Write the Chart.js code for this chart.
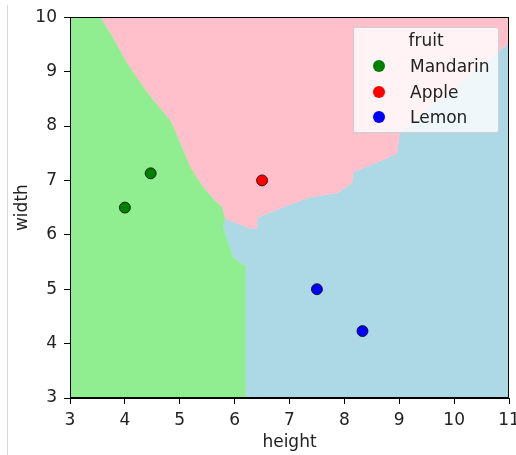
<!DOCTYPE html>
<html>
<head>
<meta charset="utf-8">
<script src="https://cdn.jsdelivr.net/npm/chart.js@4.4.1/dist/chart.umd.min.js"></script>
<style>
  body { margin: 0; background: #fff; }
  #wrap { position: relative; width: 516px; height: 455px; font-family: "DejaVu Sans", sans-serif; }
  #edge { position: absolute; left: 7px; top: 5px; width: 1px; height: 450px; background: #d8d8d8; }
  #legend {
    position: absolute; left: 353px; top: 27px; width: 144px; height: 104px;
    background: rgba(255,255,255,0.8); border: 1px solid #d0d0d0; border-radius: 3px;
    color: #222; font-size: 17px;
  }
  #legend .ttl { position: absolute; left: 0; width: 100%; top: 2px; line-height: 20px; text-align: center; }
  #legend .row { position: absolute; left: 0; height: 20px; line-height: 20px; }
  #legend .dot { position: absolute; left: 19px; top: 4px; width: 12px; height: 12px; border-radius: 50%; }
  #legend .lbl { position: absolute; left: 56px; top: 0; white-space: nowrap; }
</style>
</head>
<body>
<div id="wrap">
  <div id="edge"></div>
  <canvas id="myChart" width="516" height="455"></canvas>
  <div id="legend"></div>
</div>
<script>
// categorie e punti
var fruitNames = ["Mandarin", "Apple", "Lemon"];
var fruitColors = ["#008000", "#ff0000", "#0000ff"];
var regionColors = ["#90ee90", "#ffc0cb", "#add8e6"];

var mandarinX = [4.0, 4.47];
var mandarinY = [6.5, 7.13];
var appleX = [6.5];
var appleY = [7.0];
var lemonX = [7.5, 8.33];
var lemonY = [5.0, 4.23];

// bordi delle regioni (decision boundary)
var greenPinkX = [3.55, 3.73, 4.04, 4.28, 4.52, 4.82, 4.91, 5.06, 5.19, 5.42, 5.68, 5.77, 5.82];
var greenPinkY = [10, 9.71, 9.15, 8.79, 8.47, 8.11, 7.92, 7.56, 7.24, 6.88, 6.58, 6.51, 6.30];
var greenBlueX = [5.82, 5.79, 5.85, 5.97, 6.10, 6.19, 6.19];
var greenBlueY = [6.30, 6.14, 5.95, 5.59, 5.48, 5.44, 3];
var pinkBlueX = [5.82, 6.28, 6.41, 6.41, 6.83, 7.37, 7.87, 8.14, 8.16, 8.78, 8.96, 9.01, 11];
var pinkBlueY = [6.30, 6.12, 6.12, 6.31, 6.49, 6.69, 6.77, 6.95, 7.15, 7.41, 7.50, 7.90, 9.52];

var xTicks = [3, 4, 5, 6, 7, 8, 9, 10, 11];
var yTicks = [3, 4, 5, 6, 7, 8, 9, 10];

function pts(xs, ys) {
  var out = [];
  for (var i = 0; i < xs.length; i++) out.push({x: xs[i], y: ys[i]});
  return out;
}

var gp = pts(greenPinkX, greenPinkY);
var gb = pts(greenBlueX, greenBlueY);
var pb = pts(pinkBlueX, pinkBlueY);

var greenPoly = [{x: 3, y: 10}].concat(gp, gb.slice(1), [{x: 3, y: 3}, {x: 3, y: 10}]);
var pinkPoly = gp.concat(pb.slice(1), [{x: 11, y: 10}, gp[0]]);
var bluePoly = gb.concat([{x: 11, y: 3}], pb.slice().reverse());

function region(data, color) {
  return {
    type: "line",
    data: data,
    backgroundColor: color,
    borderColor: color,
    borderWidth: 0.5,
    pointRadius: 0,
    fill: "shape",
    tension: 0
  };
}

function fruit(xs, ys, color) {
  return {
    type: "scatter",
    data: pts(xs, ys),
    backgroundColor: color,
    borderColor: "rgba(0,0,0,0.75)",
    borderWidth: 1,
    pointRadius: 5.5
  };
}

var frame = {
  id: "frame",
  afterDraw: function(chart) {
    var a = chart.chartArea, ctx = chart.ctx;
    ctx.save();
    ctx.strokeStyle = "#000";
    ctx.lineWidth = 1;
    ctx.strokeRect(Math.round(a.left) + 0.5, Math.round(a.top) + 0.5, Math.round(a.right - a.left) - 1, Math.round(a.bottom - a.top) - 1);
    ctx.restore();
  }
};

var font = {family: "DejaVu Sans", size: 17};

new Chart("myChart", {
  type: "scatter",
  data: {
    datasets: [
      fruit(mandarinX, mandarinY, fruitColors[0]),
      fruit(appleX, appleY, fruitColors[1]),
      fruit(lemonX, lemonY, fruitColors[2]),
      region(greenPoly, regionColors[0]),
      region(pinkPoly, regionColors[1]),
      region(bluePoly, regionColors[2])
    ]
  },
  plugins: [frame],
  options: {
    responsive: false,
    animation: false,
    events: [],
    layout: {padding: {left: 8, top: 17, right: 0, bottom: 0}},
    plugins: {legend: {display: false}, tooltip: {enabled: false}},
    scales: {
      x: {
        type: "linear", min: 3, max: 11,
        afterBuildTicks: function(s) { s.ticks = xTicks.map(function(v) { return {value: v}; }); },
        afterFit: function(s) { s.height = 57; s.paddingRight = 7; },
        ticks: {font: font, color: "#222", padding: 6, maxRotation: 0},
        grid: {drawOnChartArea: false, tickLength: 6, color: "#000"},
        border: {display: true, color: "#000"},
        title: {display: true, text: "height", font: font, color: "#222", padding: {top: 0, bottom: 2}}
      },
      y: {
        type: "linear", min: 3, max: 10,
        afterBuildTicks: function(s) { s.ticks = yTicks.map(function(v) { return {value: v}; }); },
        afterFit: function(s) { s.width = 62; },
        ticks: {font: font, color: "#222", padding: 7},
        grid: {drawOnChartArea: false, tickLength: 6, color: "#000"},
        border: {display: true, color: "#000"},
        title: {display: true, text: "width", font: font, color: "#222"}
      }
    }
  }
});

// legenda
var leg = document.getElementById("legend");
var html = '<div class="ttl">fruit</div>';
for (var i = 0; i < fruitNames.length; i++) {
  html += '<div class="row" style="top:' + (28 + i * 25.5) + 'px"><span class="dot" style="background:' + fruitColors[i] + '"></span><span class="lbl">' + fruitNames[i] + '</span></div>';
}
leg.innerHTML = html;
</script>
</body>
</html>
